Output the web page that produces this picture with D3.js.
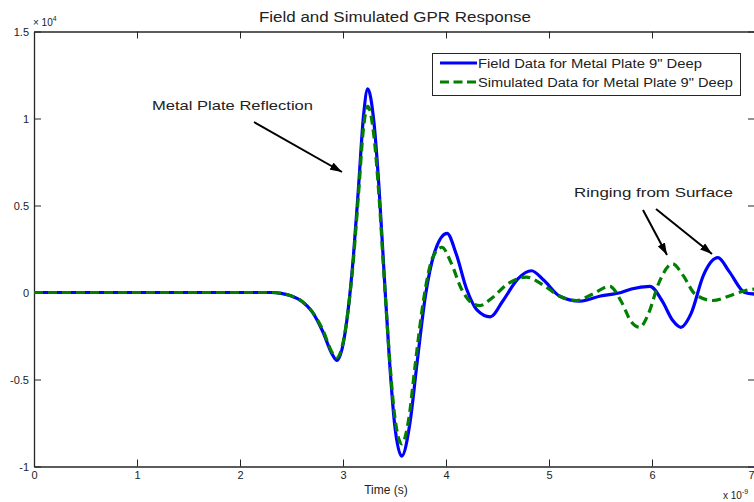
<!DOCTYPE html>
<html>
<head>
<meta charset="utf-8">
<script src="https://cdn.jsdelivr.net/npm/d3@7/dist/d3.min.js"></script>
<style>
  html, body { margin: 0; padding: 0; background: #fff; }
  svg { display: block; font-family: "Liberation Sans", Arial, sans-serif; }
</style>
</head>
<body>
<svg id="chart" width="754" height="502"></svg>
<script>
// Time axis in units of 1e-9 s, amplitude in units of 1e4
const xTicks = [0, 1, 2, 3, 4, 5, 6, 7];
const yTicks = [-1, -0.5, 0, 0.5, 1, 1.5];

const fieldT = [0, 1, 2, 2.3, 2.4, 2.5, 2.6, 2.7, 2.8, 2.9, 2.94, 3.0, 3.05, 3.1, 3.15, 3.2, 3.24, 3.3, 3.35, 3.4, 3.45, 3.5, 3.57, 3.65, 3.72, 3.8, 3.9, 4.01, 4.1, 4.2, 4.3, 4.43, 4.55, 4.7, 4.83, 4.95, 5.1, 5.3, 5.5, 5.7, 5.8, 5.98, 6.1, 6.2, 6.28, 6.38, 6.5, 6.64, 6.75, 6.9, 7.0];
const fieldV = [0, 0, 0, 0, -0.005, -0.02, -0.05, -0.11, -0.22, -0.36, -0.39, -0.3, -0.1, 0.2, 0.6, 1.02, 1.17, 0.98, 0.6, 0.1, -0.38, -0.75, -0.94, -0.75, -0.4, -0.02, 0.25, 0.34, 0.22, 0.02, -0.1, -0.14, -0.05, 0.08, 0.125, 0.07, -0.02, -0.05, -0.02, 0.0, 0.02, 0.035, -0.05, -0.16, -0.2, -0.12, 0.1, 0.2, 0.12, 0.0, -0.01];

const simT = [0, 1, 2, 2.3, 2.4, 2.5, 2.6, 2.7, 2.8, 2.9, 2.94, 3.0, 3.05, 3.1, 3.15, 3.2, 3.24, 3.3, 3.35, 3.4, 3.45, 3.5, 3.57, 3.64, 3.7, 3.78, 3.87, 3.96, 4.05, 4.15, 4.25, 4.33, 4.45, 4.6, 4.78, 4.95, 5.1, 5.27, 5.42, 5.59, 5.7, 5.8, 5.88, 5.96, 6.07, 6.2, 6.3, 6.42, 6.59, 6.75, 6.9, 7.0];
const simV = [0, 0, 0, 0, -0.005, -0.02, -0.05, -0.11, -0.21, -0.35, -0.375, -0.29, -0.1, 0.18, 0.56, 0.95, 1.07, 0.9, 0.55, 0.08, -0.36, -0.7, -0.87, -0.72, -0.42, -0.05, 0.2, 0.26, 0.17, 0.02, -0.06, -0.075, -0.03, 0.05, 0.088, 0.04, -0.02, -0.046, -0.01, 0.035, -0.05, -0.17, -0.2, -0.13, 0.06, 0.165, 0.1, -0.01, -0.046, -0.02, 0.01, 0.02];

const seriesNames = ["Field Data for Metal Plate 9\" Deep", "Simulated Data for Metal Plate 9\" Deep"];
const seriesColors = ["#0000ff", "#007f00"];

const svg = d3.select("#chart");
const plot = { left: 34, right: 755, top: 31.5, bottom: 466.5 };

const x = d3.scaleLinear().domain([0, 7]).range([plot.left, plot.right]);
const y = d3.scaleLinear().domain([-1, 1.5]).range([plot.bottom, plot.top]);

const axisColor = "#262626";
const fmt = d => String(d);

// Axes (ticks point inward, box on all four sides)
const gBottom = svg.append("g").attr("transform", `translate(0,${plot.bottom})`)
  .call(d3.axisBottom(x).tickValues(xTicks).tickSizeInner(-7).tickSizeOuter(0).tickPadding(5).tickFormat(fmt));
const gTop = svg.append("g").attr("transform", `translate(0,${plot.top})`)
  .call(d3.axisTop(x).tickValues(xTicks).tickSizeInner(-7).tickSizeOuter(0).tickFormat(""));
const gLeft = svg.append("g").attr("transform", `translate(${plot.left},0)`)
  .call(d3.axisLeft(y).tickValues(yTicks).tickSizeInner(-7).tickSizeOuter(0).tickPadding(5).tickFormat(fmt));
const gRight = svg.append("g").attr("transform", `translate(${plot.right},0)`)
  .call(d3.axisRight(y).tickValues(yTicks).tickSizeInner(-7).tickSizeOuter(0).tickFormat(""));

[gBottom, gTop, gLeft, gRight].forEach(g => {
  g.select(".domain").attr("stroke", axisColor).attr("stroke-width", 1.3);
  g.selectAll(".tick line").attr("stroke", axisColor).attr("stroke-width", 1);
  g.selectAll(".tick text").attr("fill", "#222").style("font-size", "11px")
    .style("font-family", "'Liberation Sans', Arial, sans-serif");
});
// The last time label sits at the window edge; keep it inside the page
gBottom.selectAll(".tick text").filter(d => d === 7).attr("text-anchor", "end").attr("x", -1);

// Exponent labels
const expTop = svg.append("text").attr("x", 33).attr("y", 26).attr("fill", "#222").style("font-size", "10px");
expTop.append("tspan").text("\u00d7 10");
expTop.append("tspan").attr("dy", -5).style("font-size", "7px").text("4");

const expBottom = svg.append("text").attr("x", 723).attr("y", 499).attr("fill", "#222").style("font-size", "10px");
expBottom.append("tspan").text("x 10");
expBottom.append("tspan").attr("dy", -5).style("font-size", "7px").text("-9");

// Title and axis label
svg.append("text").attr("x", 395).attr("y", 22).attr("text-anchor", "middle")
  .attr("fill", "#222").style("font-size", "14px")
  .attr("textLength", 272).attr("lengthAdjust", "spacingAndGlyphs")
  .text("Field and Simulated GPR Response");
svg.append("text").attr("x", 386).attr("y", 494).attr("text-anchor", "middle")
  .attr("fill", "#222").style("font-size", "12px").text("Time (s)");

// Data lines
svg.append("defs").append("clipPath").attr("id", "plotClip")
  .append("rect").attr("x", plot.left).attr("y", plot.top)
  .attr("width", plot.right - plot.left).attr("height", plot.bottom - plot.top);

const line = d3.line().x(d => x(d[0])).y(d => y(d[1])).curve(d3.curveMonotoneX);
const fieldData = fieldT.map((t, i) => [t, fieldV[i]]);
const simData = simT.map((t, i) => [t, simV[i]]);

const lines = svg.append("g").attr("clip-path", "url(#plotClip)");
lines.append("path").datum(fieldData).attr("d", line)
  .attr("fill", "none").attr("stroke", seriesColors[0]).attr("stroke-width", 3.2)
  .attr("stroke-linejoin", "round");
lines.append("path").datum(simData).attr("d", line)
  .attr("fill", "none").attr("stroke", seriesColors[1]).attr("stroke-width", 3.2)
  .attr("stroke-dasharray", "9,5");

// Legend
const legend = svg.append("g");
legend.append("rect").attr("x", 432.5).attr("y", 53.5).attr("width", 308).attr("height", 42)
  .attr("fill", "#fff").attr("stroke", axisColor).attr("stroke-width", 1);
const legY = [63, 82];
seriesNames.forEach((name, i) => {
  const l = legend.append("line").attr("x1", 440).attr("x2", 477).attr("y1", legY[i]).attr("y2", legY[i])
    .attr("stroke", seriesColors[i]).attr("stroke-width", 3.2);
  if (i === 1) l.attr("stroke-dasharray", "9,4.5");
  legend.append("text").attr("x", 478).attr("y", legY[i] + 4.5).attr("fill", "#222")
    .style("font-size", "12.5px").attr("textLength", i === 0 ? 224 : 255).attr("lengthAdjust", "spacingAndGlyphs")
    .text(name);
});

// Annotations with arrows
svg.select("defs").append("marker").attr("id", "arrowHead")
  .attr("viewBox", "0 0 12 8").attr("refX", 12).attr("refY", 4)
  .attr("markerWidth", 12).attr("markerHeight", 8).attr("markerUnits", "userSpaceOnUse")
  .attr("orient", "auto")
  .append("path").attr("d", "M0,0 L12,4 L0,8 Z").attr("fill", "#000");

svg.append("text").attr("x", 152).attr("y", 110).attr("fill", "#222").style("font-size", "13.5px")
  .attr("textLength", 161).attr("lengthAdjust", "spacingAndGlyphs").text("Metal Plate Reflection");
svg.append("text").attr("x", 574).attr("y", 197).attr("fill", "#222").style("font-size", "13.5px")
  .attr("textLength", 159).attr("lengthAdjust", "spacingAndGlyphs").text("Ringing from Surface");

const arrows = [
  [254, 122, 342, 172],
  [643, 210, 667, 255],
  [656, 209, 712, 254]
];
arrows.forEach(a => {
  svg.append("line").attr("x1", a[0]).attr("y1", a[1]).attr("x2", a[2]).attr("y2", a[3])
    .attr("stroke", "#000").attr("stroke-width", 2).attr("marker-end", "url(#arrowHead)");
});
</script>
</body>
</html>
